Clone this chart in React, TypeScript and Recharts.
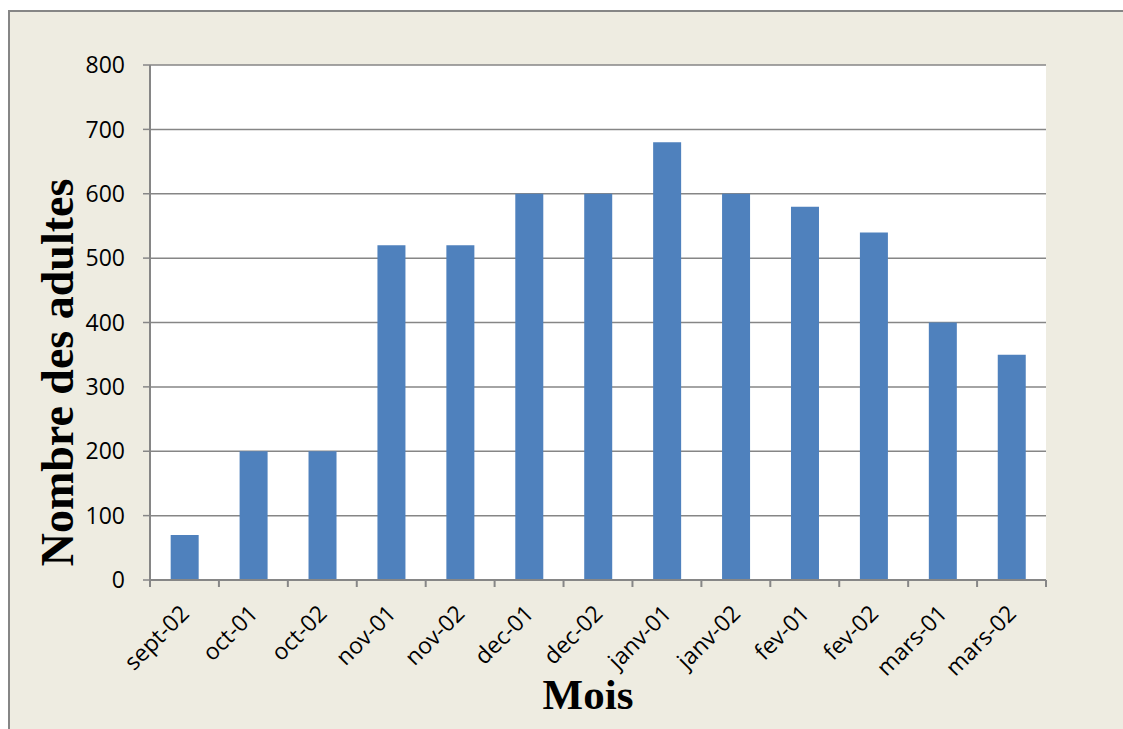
import React from "react";
import { BarChart, Bar, XAxis, YAxis, CartesianGrid } from "recharts";

const months = [
  "sept-02",
  "oct-01",
  "oct-02",
  "nov-01",
  "nov-02",
  "dec-01",
  "dec-02",
  "janv-01",
  "janv-02",
  "fev-01",
  "fev-02",
  "mars-01",
  "mars-02",
];
const adultes = [70, 200, 200, 520, 520, 600, 600, 680, 600, 580, 540, 400, 350];
const yTicks = [0, 100, 200, 300, 400, 500, 600, 700, 800];

const data = months.map((mois, i) => ({ mois, adultes: adultes[i] }));

const AXIS = "#868686";
const FONT = "'Open Sans', sans-serif";
const TITLE_FONT = "'Liberation Serif', 'Times New Roman', serif";

const MonthTick = (props: any) => {
  const { x, y, payload, index, visibleTicksCount } = props;
  const half = payload?.offset ?? 0;
  const isLast = index === visibleTicksCount - 1;
  return (
    <g>
      <line x1={x - half} x2={x - half} y1={y - 7} y2={y} stroke={AXIS} strokeWidth={2} />
      {isLast && (
        <line x1={x + half} x2={x + half} y1={y - 7} y2={y} stroke={AXIS} strokeWidth={2} />
      )}
      <g transform={`translate(${x + 6},${y + 28})`}>
        <text
          transform="rotate(-45)"
          textAnchor="end"
          fontSize={23}
          fontFamily={FONT}
          fill="#000"
        >
          {payload.value}
        </text>
      </g>
    </g>
  );
};

const YTitle = ({ viewBox }: any) => {
  const x = viewBox.x + 3;
  const y = viewBox.y + viewBox.height / 2 + 50;
  return (
    <text
      x={x}
      y={y}
      transform={`rotate(-90, ${x}, ${y})`}
      textAnchor="middle"
      fontSize={46}
      fontWeight="bold"
      fontFamily={TITLE_FONT}
      fill="#000"
    >
      Nombre des adultes
    </text>
  );
};

const XTitle = ({ viewBox }: any) => (
  <text
    x={viewBox.x + viewBox.width / 2 - 10}
    y={viewBox.y + 129}
    textAnchor="middle"
    fontSize={43}
    fontWeight="bold"
    fontFamily={TITLE_FONT}
    fill="#000"
  >
    Mois
  </text>
);

export default function App() {
  return (
    <div
      style={{
        position: "absolute",
        left: 8,
        top: 10,
        width: 1115,
        height: 719,
        background: "#EEECE1",
        borderLeft: `2px solid ${AXIS}`,
        borderTop: `2px solid ${AXIS}`,
      }}
    >
      <style>{"body{margin:0;overflow:hidden}"}</style>
      <BarChart
        width={1113}
        height={717}
        data={data}
        margin={{ top: 53, right: 77, left: 60, bottom: 0 }}
        barCategoryGap="30%"
      >
        <CartesianGrid
          vertical={false}
          stroke={AXIS}
          strokeWidth={1.5}
          fill="#FFFFFF"
          fillOpacity={1}
        />
        <XAxis
          dataKey="mois"
          height={149}
          interval={0}
          tickLine={false}
          tickSize={7}
          tickMargin={0}
          axisLine={{ stroke: AXIS, strokeWidth: 2 }}
          tick={<MonthTick />}
          label={<XTitle />}
        />
        <YAxis
          width={80}
          domain={[0, 800]}
          ticks={yTicks}
          interval={0}
          tickSize={7}
          tickMargin={18}
          tickLine={{ stroke: AXIS, strokeWidth: 1.5 }}
          axisLine={{ stroke: AXIS, strokeWidth: 2 }}
          tick={{ fontSize: 23, fill: "#000", fontFamily: FONT }}
          label={<YTitle />}
        />
        <Bar dataKey="adultes" fill="#4F81BD" isAnimationActive={false} />
      </BarChart>
    </div>
  );
}
